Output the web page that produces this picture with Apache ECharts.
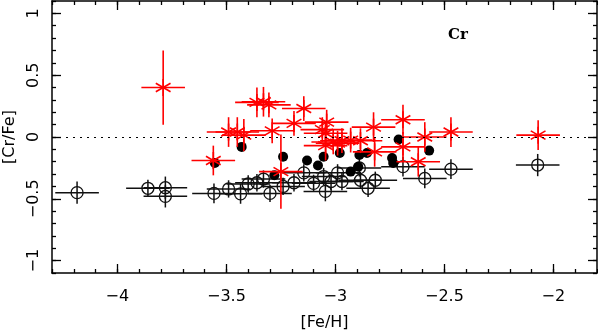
<!DOCTYPE html>
<html>
<head>
<meta charset="utf-8">
<script src="https://cdn.jsdelivr.net/npm/echarts@6.0.0/dist/echarts.min.js"></script>
<style>
  html, body { margin: 0; padding: 0; background: #fff; }
  #chart { width: 598px; height: 333px; }
</style>
</head>
<body>
<div id="chart"></div>
<script>
// red asterisks: [Fe/H], [Cr/Fe] and their errors
const starX = [-3.79, -3.56, -3.49, -3.45, -3.42, -3.36, -3.33, -3.305, -3.29, -3.25,
  -3.19, -3.145, -3.06, -3.04, -3.045, -3.045, -3.01, -2.99, -2.97, -2.93,
  -2.885, -2.825, -2.82, -2.69, -2.69, -2.59, -2.62, -2.47, -2.07]
const starY = [0.40, -0.19, 0.04, 0.04, 0.015, 0.28, 0.285, 0.26, 0.05, -0.28,
  0.11, 0.23, 0.06, 0.12, 0.03, -0.07, -0.04, -0.05, -0.03, -0.025,
  -0.03, 0.08, -0.12, 0.14, -0.08, 0.0, -0.20, 0.04, 0.015]
const starXErr = [0.10, 0.10, 0.10, 0.10, 0.10, 0.10, 0.10, 0.10, 0.10, 0.10,
  0.10, 0.10, 0.10, 0.10, 0.10, 0.10, 0.10, 0.10, 0.10, 0.10,
  0.10, 0.10, 0.10, 0.10, 0.10, 0.10, 0.10, 0.10, 0.10]
const starYErr = [0.30, 0.12, 0.12, 0.12, 0.13, 0.12, 0.12, 0.10, 0.10, 0.30,
  0.10, 0.10, 0.10, 0.10, 0.10, 0.12, 0.10, 0.10, 0.10, 0.10,
  0.10, 0.12, 0.12, 0.12, 0.12, 0.12, 0.12, 0.12, 0.12]

// black filled dots (no errors)
const dotX = [-3.553, -3.43, -3.24, -3.28, -3.13, -3.08, -3.054, -2.98, -2.89, -2.855,
  -2.93, -2.895, -2.71, -2.57, -2.74, -2.735]
const dotY = [-0.21, -0.08, -0.16, -0.31, -0.19, -0.23, -0.16, -0.13, -0.145, -0.13,
  -0.28, -0.24, -0.02, -0.11, -0.17, -0.21]

// open circles with error bars
const ringX = [-4.185, -3.86, -3.78, -3.78, -3.557, -3.49, -3.435, -3.40, -3.36, -3.33,
  -3.30, -3.24, -3.19, -3.145, -3.10, -3.054, -3.046, -3.02, -2.99, -2.97,
  -2.885, -2.85, -2.89, -2.817, -2.69, -2.59, -2.47, -2.072]
const ringY = [-0.45, -0.415, -0.41, -0.48, -0.456, -0.42, -0.46, -0.38, -0.37, -0.34,
  -0.456, -0.40, -0.37, -0.29, -0.375, -0.32, -0.44, -0.36, -0.29, -0.36,
  -0.35, -0.415, -0.25, -0.35, -0.24, -0.335, -0.26, -0.227]
const ringXErr = ringX.map(() => 0.10)
const ringYErr = [0.09, 0.07, 0.09, 0.09, 0.08, 0.07, 0.08, 0.07, 0.07, 0.07,
  0.07, 0.07, 0.07, 0.07, 0.07, 0.07, 0.08, 0.07, 0.07, 0.07,
  0.07, 0.07, 0.07, 0.07, 0.08, 0.08, 0.08, 0.09]

const xTicks = [-4, -3.5, -3, -2.5, -2]
const yTicks = [-1, -0.5, 0, 0.5, 1]

const chart = echarts.init(document.getElementById('chart'))
const FONT = 'DejaVu Sans'
const minus = v => String(v).replace('-', '\u2212')

function errBars (api, color, width) {
  const x = api.value(0), y = api.value(1), ex = api.value(2), ey = api.value(3)
  const l = api.coord([x - ex, y]), r = api.coord([x + ex, y])
  const t = api.coord([x, y + ey]), b = api.coord([x, y - ey])
  const st = { stroke: color, lineWidth: width }
  return [
    { type: 'line', shape: { x1: l[0], y1: l[1], x2: r[0], y2: r[1] }, style: st },
    { type: 'line', shape: { x1: t[0], y1: t[1], x2: b[0], y2: b[1] }, style: st }
  ]
}

function renderStar (params, api) {
  const c = api.coord([api.value(0), api.value(1)])
  const kids = errBars(api, '#ff0000', 1.6)
  const s = 8.5
  const st = { stroke: '#ff0000', lineWidth: 1.6 }
  const dx = s * Math.cos(Math.PI / 6), dy = s * Math.sin(Math.PI / 6)
  kids.push({ type: 'line', shape: { x1: c[0], y1: c[1] - s, x2: c[0], y2: c[1] + s }, style: st })
  kids.push({ type: 'line', shape: { x1: c[0] - dx, y1: c[1] - dy, x2: c[0] + dx, y2: c[1] + dy }, style: st })
  kids.push({ type: 'line', shape: { x1: c[0] - dx, y1: c[1] + dy, x2: c[0] + dx, y2: c[1] - dy }, style: st })
  return { type: 'group', children: kids }
}

function renderRing (params, api) {
  const c = api.coord([api.value(0), api.value(1)])
  const kids = errBars(api, '#111', 1.5)
  kids.push({ type: 'circle', shape: { cx: c[0], cy: c[1], r: 6 },
    style: { fill: 'none', stroke: '#111', lineWidth: 1.3 } })
  return { type: 'group', children: kids }
}

// minor axis: ticks every 0.1, min is a multiple of 0.1
function minorAxis (pos, min, max, extra) {
  return Object.assign({
    type: 'value', position: pos, min: min, max: max, interval: 0.1,
    axisLine: { show: true, onZero: false, lineStyle: { color: '#000', width: 1.5 } },
    axisTick: { show: true, inside: true, length: 4, lineStyle: { color: '#000', width: 1.3 } },
    axisLabel: { show: false },
    splitLine: { show: false }
  }, extra || {})
}
// major axis: long ticks and labels at the listed values
function majorAxis (pos, min, max, ticks, extra) {
  return Object.assign({
    type: 'value', position: pos, min: min, max: max,
    axisLine: { show: false, onZero: false },
    axisTick: { show: true, inside: true, length: 9, customValues: ticks,
      lineStyle: { color: '#000', width: 1.3 } },
    axisLabel: { show: false },
    splitLine: { show: false }
  }, extra || {})
}

chart.setOption({
  animation: false,
  backgroundColor: '#fff',
  title: {
    text: 'Cr', left: 443, top: 23,
    textStyle: { fontFamily: 'DejaVu Serif', fontWeight: 'bold', fontSize: 15, color: '#000' }
  },
  grid: { left: 52, right: 1, top: 1, bottom: 60, containLabel: false, outerBoundsMode: 'none' },
  xAxis: [
    minorAxis('bottom', -4.3, -1.8),
    majorAxis('bottom', -4.3, -1.8, xTicks, {
      name: '[Fe/H]', nameLocation: 'middle', nameGap: 42,
      nameTextStyle: { fontFamily: FONT, fontSize: 16, color: '#000' },
      axisLabel: { show: true, customValues: xTicks, margin: 16, fontFamily: FONT,
        fontSize: 16, color: '#000', formatter: v => minus(v) }
    }),
    minorAxis('top', -4.3, -1.8),
    majorAxis('top', -4.3, -1.8, xTicks)
  ],
  yAxis: [
    minorAxis('left', -1.1, 1.1),
    majorAxis('left', -1.1, 1.1, yTicks, {
      name: '[Cr/Fe]', nameLocation: 'middle', nameGap: 31, nameRotate: 90,
      nameTextStyle: { fontFamily: FONT, fontSize: 16, color: '#000' },
      axisLabel: { show: true, customValues: yTicks, rotate: 90, margin: 10,
        fontFamily: FONT, fontSize: 16, color: '#000', formatter: v => minus(v) }
    }),
    minorAxis('right', -1.1, 1.1),
    majorAxis('right', -1.1, 1.1, yTicks)
  ],
  series: [
    {
      type: 'custom',
      renderItem: renderRing,
      encode: { x: 0, y: 1 },
      data: ringX.map((x, i) => [x, ringY[i], ringXErr[i], ringYErr[i]]),
      markLine: {
        silent: true, symbol: 'none', label: { show: false },
        lineStyle: { type: [2, 5], color: '#000', width: 1.2 },
        data: [{ yAxis: 0 }]
      },
      z: 2
    },
    {
      type: 'scatter',
      symbol: 'circle',
      symbolSize: 10,
      itemStyle: { color: '#000', opacity: 1 },
      data: dotX.map((x, i) => [x, dotY[i]]),
      z: 3
    },
    {
      type: 'custom',
      renderItem: renderStar,
      encode: { x: 0, y: 1 },
      data: starX.map((x, i) => [x, starY[i], starXErr[i], starYErr[i]]),
      z: 4
    }
  ]
})
</script>
</body>
</html>
